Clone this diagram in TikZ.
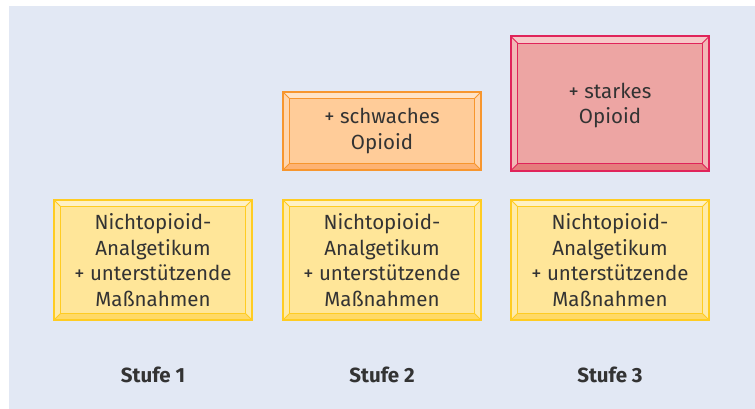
\documentclass[tikz,border=0pt]{standalone}
\usepackage{fontspec}
\setmainfont{Fira Sans}
\definecolor{bg}{HTML}{E2E8F4}
\definecolor{txt}{HTML}{333333}
\definecolor{yfill}{HTML}{FFE699}
\definecolor{ylight}{HTML}{FFF1C4}
\definecolor{yside}{HTML}{FFEBAA}
\definecolor{ydark}{HTML}{FFD966}
\definecolor{yline}{HTML}{FFCC22}
\definecolor{ofill}{HTML}{FFCC99}
\definecolor{olight}{HTML}{FFE3C6}
\definecolor{oside}{HTML}{FFD6AE}
\definecolor{odark}{HTML}{FDB273}
\definecolor{oline}{HTML}{F7962E}
\definecolor{rfill}{HTML}{EDA5A3}
\definecolor{rlight}{HTML}{F6C9C8}
\definecolor{rside}{HTML}{F2B8B6}
\definecolor{rdark}{HTML}{E57C7C}
\definecolor{rline}{HTML}{E0245A}
\newcommand\bevelbox[5]{%
  \fill[#2] (#1.north west) -- (#1.north east) -- ([shift={(-7,7)}]#1.north east) -- ([shift={(7,7)}]#1.north west) -- cycle;
  \fill[#3] (#1.north west) -- ([shift={(7,7)}]#1.north west) -- ([shift={(7,-7)}]#1.south west) -- (#1.south west) -- cycle;
  \fill[#3] (#1.north east) -- ([shift={(-7,7)}]#1.north east) -- ([shift={(-7,-7)}]#1.south east) -- (#1.south east) -- cycle;
  \fill[#4] (#1.south west) -- (#1.south east) -- ([shift={(-7,-7)}]#1.south east) -- ([shift={(7,-7)}]#1.south west) -- cycle;
  \draw[#5, line width=0.8pt] ([shift={(7,7)}]#1.north west) rectangle ([shift={(-7,-7)}]#1.south east);
  \draw[#5, line width=0.8pt] (#1.north west) -- ([shift={(7,7)}]#1.north west)
    (#1.north east) -- ([shift={(-7,7)}]#1.north east)
    (#1.south west) -- ([shift={(7,-7)}]#1.south west)
    (#1.south east) -- ([shift={(-7,-7)}]#1.south east);
  \draw[#5, line width=1.6pt] (#1.north west) rectangle (#1.south east);
}
\tikzset{
  box/.style={rectangle, minimum width=198pt, inner sep=0pt, align=center,
    text=txt, font=\fontsize{20.5}{25.5}\selectfont},
  basebox/.style={box, minimum height=120pt, fill=yfill},
  stufe/.style={text=txt, font=\fontsize{20.5}{24}\selectfont\bfseries}
}
\begin{document}
\begin{tikzpicture}[x=1pt,y=-1pt]
\useasboundingbox (0,0) rectangle (755,409);
\fill[bg] (9,6) rectangle (755,409);
\node[basebox] (b1) at (153,260) {};
\node[basebox] (b2) at (382,260) {};
\node[basebox] (b3) at (610,260) {};
\node[box, minimum height=78pt, fill=ofill] (o2) at (382,131) {};
\node[box, minimum height=134pt, fill=rfill] (r3) at (610,103.5) {};
\bevelbox{b1}{ylight}{yside}{ydark}{yline}
\bevelbox{b2}{ylight}{yside}{ydark}{yline}
\bevelbox{b3}{ylight}{yside}{ydark}{yline}
\bevelbox{o2}{olight}{oside}{odark}{oline}
\bevelbox{r3}{rlight}{rside}{rdark}{rline}
\node[box] (t1) at (b1) {Nichtopioid-\\Analgetikum\\+ unterstützende\\Maßnahmen};
\node[box] (t2) at (b2) {Nichtopioid-\\Analgetikum\\+ unterstützende\\Maßnahmen};
\node[box] (t3) at (b3) {Nichtopioid-\\Analgetikum\\+ unterstützende\\Maßnahmen};
\node[box] (to) at (o2) {+ schwaches\\Opioid};
\node[box] (tr) at ([yshift=-2]r3.center) {+ starkes\\Opioid};
\node[stufe] (s1) at (153,375) {Stufe 1};
\node[stufe] (s2) at (382,375) {Stufe 2};
\node[stufe] (s3) at (610,375) {Stufe 3};
\end{tikzpicture}
\end{document}
